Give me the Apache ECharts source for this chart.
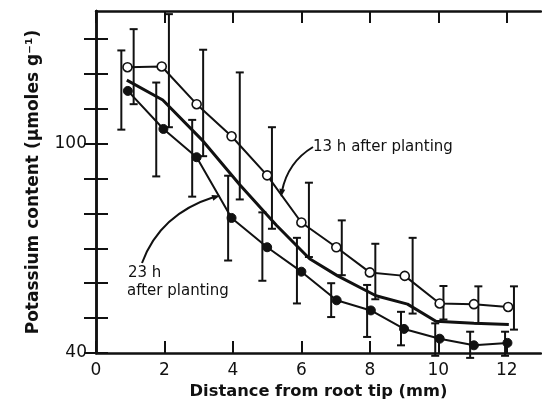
<!DOCTYPE html>
<html><head><meta charset="utf-8">
<script src="https://cdn.jsdelivr.net/npm/echarts@6/dist/echarts.min.js"></script>
<style>html,body{margin:0;padding:0;background:#fff}#c{width:542px;height:408px}</style>
</head><body><div id="c"></div>
<script>
// 13 h after planting (open circles)
const dist13 = [0.92,1.92,2.94,3.96,5.0,6.0,7.02,8.0,9.02,10.04,11.04,12.04];
const k13 = [121.9,122.1,111.3,102.1,90.9,77.4,70.3,63.1,62.1,54.2,54.0,53.2];
const errX13 = [1.1,2.13,3.13,4.2,5.14,6.22,7.18,8.16,9.25,10.15,11.17,12.21];
const errHi13 = [132.8,137.1,126.9,120.4,104.7,88.8,78.0,71.3,73.0,59.2,59.1,59.1];
const errLo13 = [111.3,104.7,96.4,84.0,75.6,67.5,62.3,55.4,51.3,49.6,48.5,46.7];
// 23 h after planting (filled circles)
const dist23 = [0.93,1.97,2.94,3.96,5.0,6.0,7.03,8.03,9.0,10.04,11.04,12.02];
const k23 = [115.1,104.2,96.1,78.7,70.3,63.3,55.1,52.2,46.9,44.1,42.2,42.9];
const errX23 = [0.74,1.76,2.81,3.86,4.86,5.87,6.87,7.92,8.91,9.91,10.93,11.95];
const errHi23 = [126.7,117.5,106.8,90.8,80.3,73.0,60.0,59.5,51.8,48.5,46.1,46.1];
const errLo23 = [104.0,90.6,84.8,66.5,60.7,54.2,50.3,44.6,42.2,39.2,38.6,39.2];
// middle (unmarked) line
const distMid = [0.9,1.95,3.13,4.2,5.27,6.24,7.06,8.18,9.1,9.93,11.04,12.06];
const kMid = [118.2,112.5,100.7,88.2,76.6,67.0,62.1,56.4,54.0,49.1,48.5,48.2];
// axis ticks and labels
const xTicks = [0,2,4,6,8,10,12];
const xTickLabels = [0,2,4,6,8,10,12];
const yTicks = [40,50,60,70,80,90,100,110,120,130];
const yTickLabels = [40,100];

const FONT = 'DejaVu Sans';
const INK = '#111';
const zip = (a,b) => a.map((v,i)=>[v,b[i]]);

function errSeries(xs, hi, lo){
  return {
    type:'custom', z:2, clip:false,
    data: xs.map((x,i)=>[x,hi[i],lo[i]]),
    renderItem:(params, api)=>{
      const top = api.coord([api.value(0), api.value(1)]);
      const bot = api.coord([api.value(0), api.value(2)]);
      const w = 4;
      const st = {stroke:INK, lineWidth:2};
      return {type:'group', children:[
        {type:'line', shape:{x1:top[0],y1:top[1],x2:bot[0],y2:bot[1]}, style:st},
        {type:'line', shape:{x1:top[0]-w,y1:top[1],x2:top[0]+w,y2:top[1]}, style:st},
        {type:'line', shape:{x1:bot[0]-w,y1:bot[1],x2:bot[0]+w,y2:bot[1]}, style:st}
      ]};
    }
  };
}

const axisLine = {show:true, lineStyle:{color:INK, width:2.5}};
const xTick = {show:true, inside:true, length:12, customValues:xTicks, lineStyle:{color:INK, width:2}};
const yTick = {show:true, inside:true, length:12, customValues:yTicks, lineStyle:{color:INK, width:2}};

const chart = echarts.init(document.getElementById('c'), null, {renderer:'canvas'});
chart.setOption({
  animation:false,
  backgroundColor:'#fff',
  grid:{left:96, right:1, top:11, bottom:55},
  xAxis:[
    {type:'value', min:0, max:13, interval:1, position:'bottom',
     axisLine, axisTick:xTick, splitLine:{show:false},
     axisLabel:{fontFamily:FONT, fontSize:17, color:INK, margin:9, customValues:xTickLabels,
       formatter:v=> String(v)},
     name:'Distance from root tip (mm)', nameLocation:'middle', nameGap:30,
     nameTextStyle:{fontFamily:FONT, fontSize:16.3, fontWeight:'bold', color:INK}},
    {type:'value', min:0, max:13, interval:1, position:'top',
     axisLine, axisTick:xTick, splitLine:{show:false}, axisLabel:{show:false}}
  ],
  yAxis:[
    {type:'value', min:40, max:138, interval:10, position:'left',
     axisLine, axisTick:yTick, splitLine:{show:false},
     axisLabel:{fontFamily:FONT, fontSize:17, color:INK, margin:9, customValues:yTickLabels,
       formatter:v=> String(v)},
     name:'Potassium content (\u03bcmoles g\u207b\u00b9)', nameLocation:'middle', nameGap:54, nameRotate:90,
     nameTextStyle:{fontFamily:FONT, fontSize:17, fontWeight:'bold', color:INK}},
    {type:'value', min:40, max:138, interval:10, position:'right',
     axisLine, axisTick:yTick, splitLine:{show:false}, axisLabel:{show:false}}
  ],
  series:[
    errSeries(errX13, errHi13, errLo13),
    errSeries(errX23, errHi23, errLo23),
    {type:'line', z:3, data:zip(distMid,kMid), symbol:'none',
     lineStyle:{color:INK, width:3}},
    {type:'line', z:4, data:zip(dist13,k13), symbol:'circle', symbolSize:9,
     lineStyle:{color:INK, width:2},
     itemStyle:{color:'#fff', borderColor:INK, borderWidth:1.6}},
    {type:'line', z:4, data:zip(dist23,k23), symbol:'circle', symbolSize:9,
     lineStyle:{color:INK, width:2},
     itemStyle:{color:INK, borderColor:INK, borderWidth:1}}
  ],
  graphic:[
    {type:'text', left:313, top:140, style:{text:'13 h after planting', font:'15px "DejaVu Sans"', fill:INK}},
    {type:'bezierCurve', shape:{x1:313,y1:147,x2:282,y2:191,cpx1:288,cpy1:162}, style:{stroke:INK, lineWidth:2, fill:null}},
    {type:'polygon', shape:{points:[[281,197],[285.2,189.7],[279.4,188.5]]}, style:{fill:INK}},
    {type:'text', left:128, top:266, style:{text:'23 h', font:'15px "DejaVu Sans"', fill:INK}},
    {type:'text', left:127, top:284, style:{text:'after planting', font:'15px "DejaVu Sans"', fill:INK}},
    {type:'bezierCurve', shape:{x1:142,y1:263,x2:214,y2:197,cpx1:160,cpy1:214}, style:{stroke:INK, lineWidth:2, fill:null}},
    {type:'polygon', shape:{points:[[220,195.5],[213.3,200.8],[211.5,195.0]]}, style:{fill:INK}}
  ]
});
</script></body></html>
